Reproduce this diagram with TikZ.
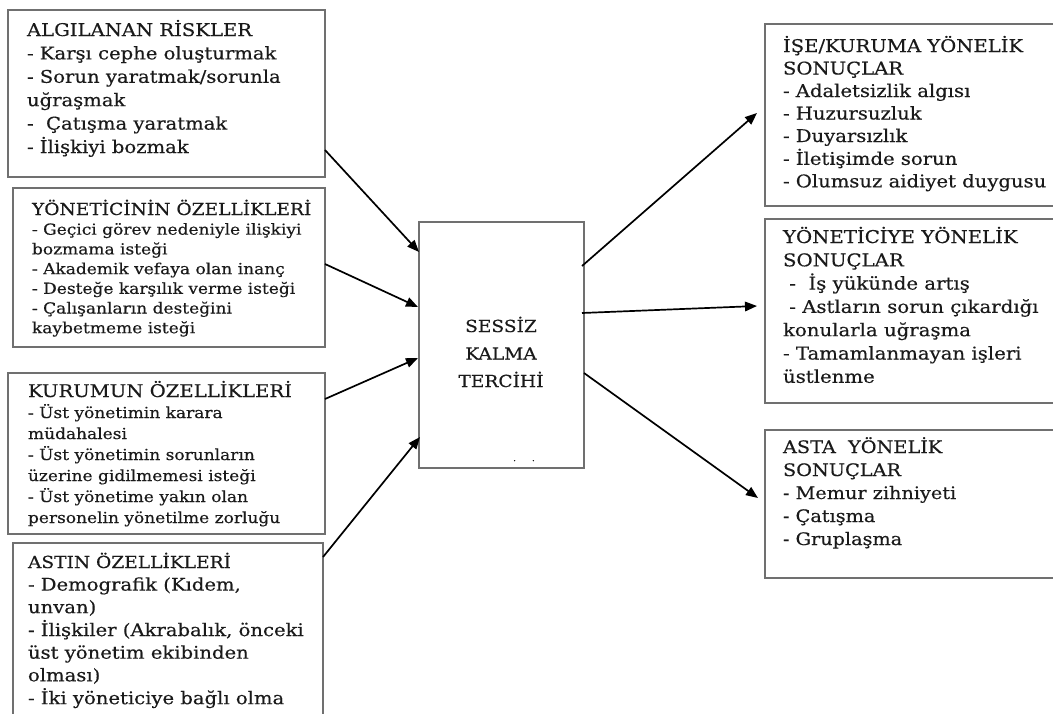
\documentclass[tikz,border=0pt]{standalone}
\usepackage{fontspec}
\setmainfont{DejaVu Serif}[FakeStretch=1.12,FakeBold=0.4]
\usetikzlibrary{arrows.meta,calc}
\definecolor{boxgray}{HTML}{707070}
\definecolor{ink}{HTML}{1A1A1A}
\tikzset{
  box/.style={draw=boxgray, line width=1.2pt, anchor=north west, inner sep=0pt, outer sep=0pt},
  txt/.style={anchor=base west, inner sep=0pt, outer sep=0pt, text=ink},
  arr/.style={line width=1.7pt, -{Triangle[length=12pt,width=9.5pt]}},
}
\newcommand{\blk}[3]{{\fontsize{#1}{#2}\selectfont\begin{tabular}[t]{@{}l@{}}#3\end{tabular}}}
\newcommand{\ttl}[2]{{\fontsize{#1}{#1}\selectfont #2}}
\begin{document}
\begin{tikzpicture}[x=1pt,y=-1pt]
\useasboundingbox (0,0) rectangle (1053,713);
% boxes
\node[box, minimum width=317pt, minimum height=167pt] (L1) at (8,10) {};
\node[box, minimum width=312pt, minimum height=159pt] (L2) at (13,188) {};
\node[box, minimum width=317pt, minimum height=161pt] (L3) at (8,373) {};
\node[box, minimum width=310pt, minimum height=190pt] (L4) at (13,543) {};
\node[box, minimum width=165pt, minimum height=246pt] (C) at (419,222) {};
\node[box, minimum width=300pt, minimum height=182pt] (R1) at (765,24) {};
\node[box, minimum width=300pt, minimum height=184pt] (R2) at (765,219) {};
\node[box, minimum width=300pt, minimum height=148pt] (R3) at (765,430) {};
% texts
\node[txt] (tL1) at (27,36) {\blk{17.5}{23.4}{ALGILANAN RİSKLER\\
- Karşı cephe oluşturmak\\
- Sorun yaratmak/sorunla\\
uğraşmak\\
-\ \ Çatışma yaratmak\\
- İlişkiyi bozmak}};
\node[txt] (tL2) at (32,215) {\blk{15.2}{19.7}{\ttl{16.6}{YÖNETİCİNİN ÖZELLİKLERİ}\\
- Geçici görev nedeniyle ilişkiyi\\
bozmama isteği\\
- Akademik vefaya olan inanç\\
- Desteğe karşılık verme isteği\\
- Çalışanların desteğini\\
kaybetmeme isteği}};
\node[txt] (tL3) at (28,397) {\blk{15.2}{21}{\ttl{17.5}{KURUMUN ÖZELLİKLERİ}\\
- Üst yönetimin karara\\
müdahalesi\\
- Üst yönetimin sorunların\\
üzerine gidilmemesi isteği\\
- Üst yönetime yakın olan\\
personelin yönetilme zorluğu}};
\node[txt] (tL4) at (28,568) {\blk{17.5}{22.6}{\ttl{16.6}{ASTIN ÖZELLİKLERİ}\\
- Demografik (Kıdem,\\
unvan)\\
- İlişkiler (Akrabalık, önceki\\
üst yönetim ekibinden\\
olması)\\
- İki yöneticiye bağlı olma}};
\node[txt] (tR1) at (783,52) {\blk{17.5}{22.5}{İŞE/KURUMA YÖNELİK\\
SONUÇLAR\\
- Adaletsizlik algısı\\
- Huzursuzluk\\
- Duyarsızlık\\
- İletişimde sorun\\
- Olumsuz aidiyet duygusu}};
\node[txt] (tR2) at (783,243) {\blk{17.6}{23.3}{YÖNETİCİYE YÖNELİK\\
SONUÇLAR\\
\ -\ \ İş yükünde artış\\
\ - Astların sorun çıkardığı\\
konularla uğraşma\\
- Tamamlanmayan işleri\\
üstlenme}};
\node[txt] (tR3) at (783,453) {\blk{17.2}{23}{ASTA\ \ YÖNELİK\\
SONUÇLAR\\
- Memur zihniyeti\\
- Çatışma\\
- Gruplaşma}};
\node[anchor=base, inner sep=0pt, text=ink] (tC) at (501,332) {\fontsize{16.6}{27.5}\selectfont\begin{tabular}[t]{@{}c@{}}SESSİZ\\ KALMA\\ TERCİHİ\end{tabular}};
\node[anchor=base, inner sep=0pt, text=ink] (dots) at (524,461) {\fontsize{8}{8}\selectfont .\hspace{16pt}.};
% arrows in
\draw[arr] ($(L1.north east)+(0,140)$) -- ($(C.north west)+(0,30)$);
\draw[arr] ($(L2.north east)+(0,76)$) -- ($(C.north west)+(-1,85)$);
\draw[arr] ($(L3.north east)+(0,26)$) -- ($(C.north west)+(-1,136)$);
\draw[arr] ($(L4.north east)+(0,14)$) -- ($(C.south west)+(1,-31)$);
% arrows out
\draw[arr] ($(C.north east)+(-2,44)$) -- ($(R1.north west)+(-8,89)$);
\draw[arr] ($(C.north east)+(-2,91)$) -- ($(R2.north west)+(-8,87)$);
\draw[arr] ($(C.north east)+(0,151)$) -- ($(R3.north west)+(-7,68)$);
\end{tikzpicture}
\end{document}
